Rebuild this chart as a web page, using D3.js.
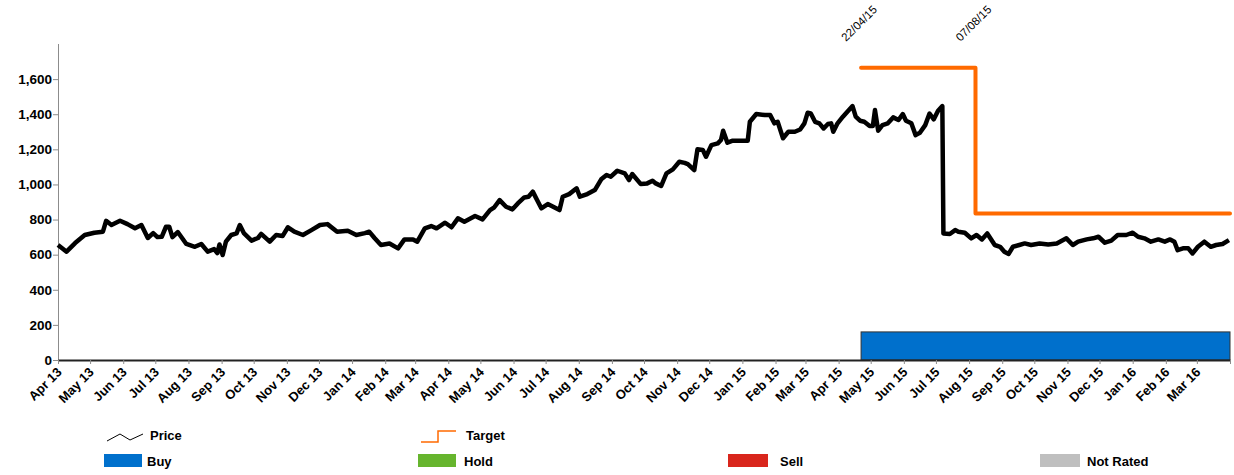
<!DOCTYPE html>
<html>
<head>
<meta charset="utf-8">
<script src="https://cdn.jsdelivr.net/npm/d3@7"></script>
<style>
  body { margin: 0; background: #fff; }
  svg { display: block; font-family: "Liberation Sans", Arial, sans-serif; }
</style>
</head>
<body>
<div id="chart"></div>
<script>

// price history
let priceData = [
  ["2013-04-01",655],["2013-04-09",617],["2013-04-17",666],["2013-04-26",712],["2013-05-05",725],
  ["2013-05-13",731],["2013-05-16",793],["2013-05-21",769],["2013-05-29",793],["2013-06-05",774],
  ["2013-06-12",750],["2013-06-18",769],["2013-06-24",695],["2013-06-29",723],["2013-07-03",700],
  ["2013-07-07",702],["2013-07-11",759],["2013-07-14",759],["2013-07-17",700],["2013-07-22",729],
  ["2013-07-30",661],["2013-08-07",645],["2013-08-13",661],["2013-08-19",617],["2013-08-25",632],
  ["2013-08-28",609],["2013-08-30",658],["2013-09-02",598],["2013-09-05",674],["2013-09-10",712],
  ["2013-09-15",721],["2013-09-18",769],["2013-09-22",721],["2013-09-29",680],["2013-10-05",695],
  ["2013-10-08",718],["2013-10-16",674],["2013-10-22",712],["2013-10-28",706],["2013-11-02",756],
  ["2013-11-08",731],["2013-11-16",712],["2013-11-24",740],["2013-12-02",769],["2013-12-09",774],
  ["2013-12-18",731],["2013-12-28",736],["2014-01-05",712],["2014-01-13",723],["2014-01-17",731],
  ["2014-01-22",695],["2014-01-28",655],["2014-02-05",664],["2014-02-13",636],["2014-02-19",687],
  ["2014-02-27",687],["2014-03-03",674],["2014-03-10",750],["2014-03-16",763],["2014-03-21",750],
  ["2014-03-29",782],["2014-04-04",756],["2014-04-10",807],["2014-04-16",788],["2014-04-26",820],
  ["2014-05-03",801],["2014-05-10",854],["2014-05-14",870],["2014-05-19",911],["2014-05-25",873],
  ["2014-05-31",858],["2014-06-05",892],["2014-06-11",926],["2014-06-15",930],["2014-06-19",959],
  ["2014-06-23",911],["2014-06-27",864],["2014-07-03",888],["2014-07-14",854],["2014-07-17",930],
  ["2014-07-23",945],["2014-07-30",978],["2014-08-02",930],["2014-08-09",945],["2014-08-16",968],
  ["2014-08-22",1029],["2014-08-27",1054],["2014-08-31",1044],["2014-09-06",1078],["2014-09-13",1063],
  ["2014-09-17",1025],["2014-09-20",1059],["2014-09-28",1002],["2014-10-04",1006],["2014-10-09",1021],
  ["2014-10-12",1006],["2014-10-17",991],["2014-10-22",1063],["2014-10-28",1086],["2014-11-03",1129],
  ["2014-11-08",1123],["2014-11-11",1116],["2014-11-17",1082],["2014-11-20",1200],["2014-11-25",1196],
  ["2014-11-28",1158],["2014-12-03",1224],["2014-12-09",1234],["2014-12-12",1253],["2014-12-14",1306],
  ["2014-12-18",1238],["2014-12-23",1249],["2014-12-31",1249],["2015-01-06",1249],["2015-01-08",1357],
  ["2015-01-14",1401],["2015-01-22",1395],["2015-01-27",1395],["2015-01-31",1348],["2015-02-03",1357],
  ["2015-02-08",1263],["2015-02-13",1300],["2015-02-19",1300],["2015-02-24",1313],["2015-02-28",1348],
  ["2015-03-03",1408],["2015-03-06",1404],["2015-03-10",1357],["2015-03-14",1348],["2015-03-18",1319],
  ["2015-03-22",1344],["2015-03-25",1348],["2015-03-27",1300],["2015-03-31",1348],["2015-04-05",1386],
  ["2015-04-10",1420],["2015-04-14",1446],["2015-04-17",1386],["2015-04-21",1363],["2015-04-25",1357],
  ["2015-04-30",1333],["2015-05-03",1333],["2015-05-05",1424],["2015-05-08",1306],["2015-05-12",1338],
  ["2015-05-17",1348],["2015-05-22",1382],["2015-05-27",1367],["2015-05-31",1401],["2015-06-03",1363],
  ["2015-06-08",1348],["2015-06-12",1281],["2015-06-16",1294],["2015-06-21",1338],["2015-06-25",1404],
  ["2015-06-29",1371],["2015-07-03",1420],["2015-07-07",1446],["2015-07-08",721],["2015-07-14",718],
  ["2015-07-19",740],["2015-07-22",731],["2015-07-28",725],["2015-08-03",693],["2015-08-08",712],
  ["2015-08-13",687],["2015-08-18",721],["2015-08-25",655],["2015-08-30",645],["2015-09-03",617],
  ["2015-09-07",604],["2015-09-11",645],["2015-09-17",655],["2015-09-22",664],["2015-09-28",655],
  ["2015-10-06",664],["2015-10-14",658],["2015-10-22",664],["2015-10-31",693],["2015-11-06",655],
  ["2015-11-11",674],["2015-11-19",687],["2015-11-25",693],["2015-11-30",702],["2015-12-06",668],
  ["2015-12-12",680],["2015-12-18",712],["2015-12-26",712],["2016-01-01",725],["2016-01-06",702],
  ["2016-01-12",693],["2016-01-18",674],["2016-01-25",687],["2016-01-31",674],["2016-02-05",687],
  ["2016-02-09",674],["2016-02-12",626],["2016-02-17",636],["2016-02-22",636],["2016-02-26",607],
  ["2016-03-02",645],["2016-03-08",674],["2016-03-14",645],["2016-03-19",655],["2016-03-25",661],
  ["2016-03-31",683]
];

// target price steps
let targetData = [["2015-04-22",1665],["2015-08-07",835],["2016-04-01",835]];

// rating periods
let ratingData = [{ rating: "Buy", from: "2015-04-22", to: "2016-04-01", level: 160 }];

// dates flagged at the top of the chart
let changeDates = ["2015-04-22","2015-08-07"];

let yTicks = [0,200,400,600,800,1000,1200,1400,1600];
let xRange = ["2013-04-01","2016-04-01"];

let legendSeries = ["Price","Target"];
let legendRatings = ["Buy","Hold","Sell","Not Rated"];

let colors = { Price: "#000000", Target: "#ff6a00", Buy: "#0070cc", Hold: "#66b52e", Sell: "#d9261c", "Not Rated": "#bfbfbf" };

let parse = d3.timeParse("%Y-%m-%d");

let width = 1234, height = 475;
let plot = { left: 58, right: 1230, top: 44, bottom: 360 };

let svg = d3.select("#chart").append("svg")
  .attr("width", width)
  .attr("height", height);

let x = d3.scaleTime()
  .domain(xRange.map(parse))
  .range([plot.left, plot.right]);

let y = d3.scaleLinear()
  .domain([0, 1800])
  .range([plot.bottom, plot.top]);

// rating bars
svg.selectAll("rect.rating").data(ratingData).join("rect")
  .attr("class", "rating")
  .attr("x", d => x(parse(d.from)))
  .attr("y", d => y(d.level))
  .attr("width", d => x(parse(d.to)) - x(parse(d.from)))
  .attr("height", d => y(0) - y(d.level))
  .style("fill", d => colors[d.rating])
  .style("stroke", "#333")
  .style("stroke-width", 1);

// y axis
let yAxis = svg.append("g")
  .attr("transform", `translate(${plot.left},0)`)
  .call(d3.axisLeft(y).tickValues(yTicks).tickFormat(d3.format(",")).tickSize(5).tickSizeOuter(0));

yAxis.select(".domain").attr("stroke", "#8c8c8c").attr("d", `M0.5,${plot.top}V${plot.bottom}`);
yAxis.selectAll(".tick line").attr("stroke", "#8c8c8c");
yAxis.selectAll(".tick text")
  .attr("x", -6)
  .attr("font-size", 13.5)
  .attr("font-weight", "bold")
  .attr("fill", "#000");

// x axis
let months = d3.timeMonth.range(parse(xRange[0]), d3.timeDay.offset(parse(xRange[1]), 1));
let fmt = d3.timeFormat("%b %y");

let xAxis = svg.append("g")
  .attr("transform", `translate(0,${plot.bottom})`)
  .call(d3.axisBottom(x).tickValues(months).tickFormat((d, i) => i < months.length - 1 ? fmt(d) : "").tickSize(4).tickSizeOuter(0));

xAxis.select(".domain").attr("stroke", "#222").attr("stroke-width", 2);
xAxis.selectAll(".tick line").attr("stroke", "#8c8c8c");
xAxis.selectAll(".tick text")
  .attr("font-size", 13)
  .attr("font-weight", "bold")
  .attr("fill", "#000")
  .attr("text-anchor", "end")
  .attr("dy", 0)
  .attr("y", 0)
  .attr("transform", "translate(4,13) rotate(-45)");

// price line
let line = d3.line()
  .x(d => x(parse(d[0])))
  .y(d => y(d[1]));

svg.append("path")
  .datum(priceData)
  .attr("d", line)
  .style("fill", "none")
  .style("stroke", colors.Price)
  .style("stroke-width", 4.5)
  .style("stroke-linejoin", "round");

// target line
svg.append("path")
  .datum(targetData)
  .attr("d", line.curve(d3.curveStepAfter))
  .style("fill", "none")
  .style("stroke", colors.Target)
  .style("stroke-width", 4)
  .style("stroke-linejoin", "round")
  .style("stroke-linecap", "round");

// change date labels
svg.selectAll("text.change").data(changeDates).join("text")
  .attr("class", "change")
  .attr("transform", d => `translate(${x(parse(d)) - 15},42) rotate(-45)`)
  .attr("font-size", 11.5)
  .text(d => d3.timeFormat("%d/%m/%y")(parse(d)));

// legend
let legend = svg.append("g").attr("class", "legend");
let seriesPos = [107, 420];
let ratingPos = [104, 418, 728, 1040];
let labelOff = [43, 46, 52, 47];

legend.append("path")
  .attr("d", "M107,441L120,434L130,440L143,434")
  .style("fill", "none").style("stroke", colors.Price).style("stroke-width", 1);

legend.append("path")
  .attr("d", "M421,442H438V431H456")
  .style("fill", "none").style("stroke", colors.Target).style("stroke-width", 1.5);

legend.selectAll("text.series").data(legendSeries).join("text")
  .attr("class", "series")
  .attr("x", (d, i) => seriesPos[i] + [43, 46][i])
  .attr("y", 440)
  .attr("font-size", 13)
  .attr("font-weight", "bold")
  .text(d => d);

legend.selectAll("rect").data(legendRatings).join("rect")
  .attr("x", (d, i) => ratingPos[i])
  .attr("y", 454)
  .attr("width", (d, i) => i < 2 ? 38 : 40)
  .attr("height", 13)
  .style("fill", d => colors[d]);

legend.selectAll("text.rating").data(legendRatings).join("text")
  .attr("class", "rating")
  .attr("x", (d, i) => ratingPos[i] + labelOff[i])
  .attr("y", 466)
  .attr("font-size", 13)
  .attr("font-weight", "bold")
  .text(d => d);

</script>
</body>
</html>
